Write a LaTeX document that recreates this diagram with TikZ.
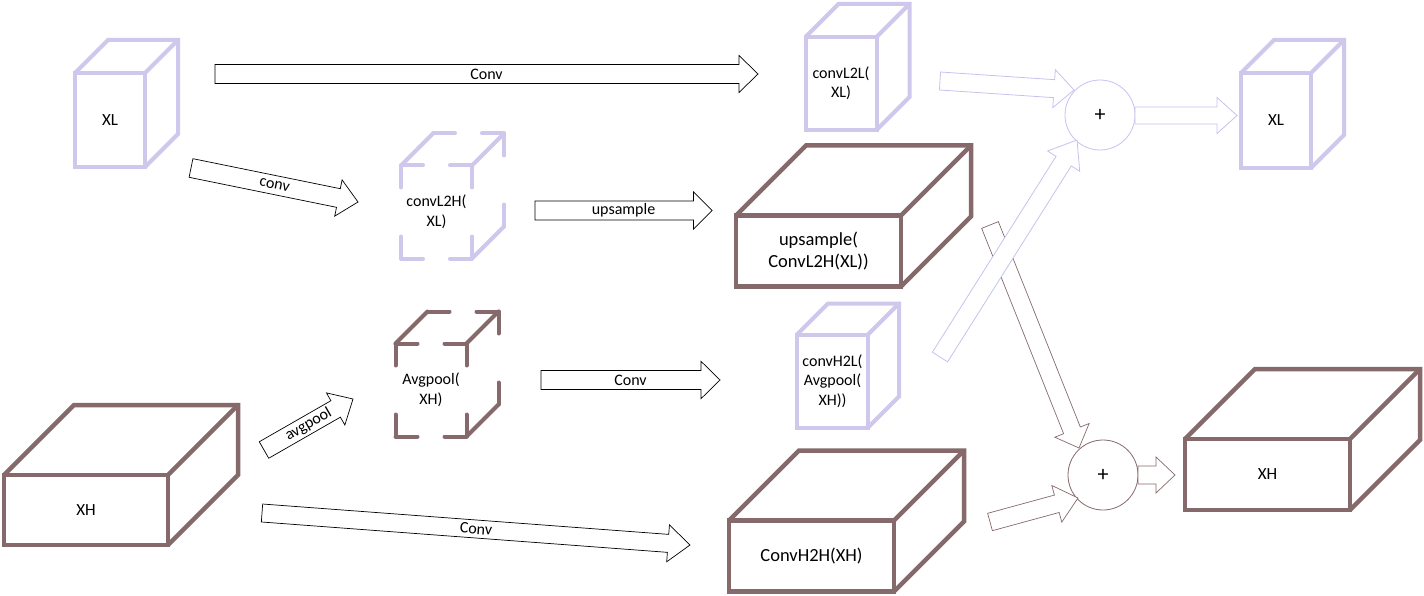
\documentclass[tikz,border=0pt]{standalone}
\usepackage{fontspec}
\setmainfont{Carlito}
\usetikzlibrary{calc}
\definecolor{lav}{HTML}{CFC7EC}
\definecolor{brn}{HTML}{86696B}
\definecolor{lavline}{HTML}{C6C2F0}
\newcommand\blockarrow[6]{%
  \coordinate (baH) at ($(#3)!#6!(#2)$);
  \draw[#1] ($(#2)!#4!90:(#3)$) -- ($(baH)!#4!-90:(#2)$) -- ($(baH)!#5!-90:(#2)$) -- (#3)
    -- ($(baH)!#5!90:(#2)$) -- ($(baH)!#4!90:(#2)$) -- ($(#2)!#4!-90:(#3)$) -- cycle;
}
\newcommand\cubeback[3]{%
  \draw[#3] (#1.north west) -- ++(#2,-#2) -- ($(#1.north east)+(#2,-#2)$)
    -- ($(#1.south east)+(#2,-#2)$) -- (#1.south east);
  \draw[#3] (#1.north east) -- ++(#2,-#2);
}
\newcommand\halfedge[3]{%
  \coordinate (heM) at ($(#1)!.5!(#2)$);
  \draw[#3] (#1) -- (heM);
  \draw[#3] (#2) -- (heM);
}
\newcommand\dashcube[3]{%
  \coordinate (dcA) at (#1.north west);
  \coordinate (dcB) at (#1.north east);
  \coordinate (dcC) at (#1.south east);
  \coordinate (dcD) at (#1.south west);
  \coordinate (dcE) at ($(#1.north west)+(#2,-#2)$);
  \coordinate (dcF) at ($(#1.north east)+(#2,-#2)$);
  \coordinate (dcG) at ($(#1.south east)+(#2,-#2)$);
  \halfedge{dcA}{dcB}{#3}\halfedge{dcB}{dcC}{#3}\halfedge{dcC}{dcD}{#3}\halfedge{dcD}{dcA}{#3}
  \halfedge{dcA}{dcE}{#3}\halfedge{dcB}{dcF}{#3}\halfedge{dcC}{dcG}{#3}
  \halfedge{dcE}{dcF}{#3}\halfedge{dcF}{dcG}{#3}
}
\tikzset{
  face/.style={rectangle, outer sep=0pt, inner sep=0pt, align=center, text=black},
  smallcube/.style={face, minimum width=71pt, minimum height=93pt, font=\fontsize{16}{19.5}\selectfont},
  bigbox/.style={face, minimum width=165pt, minimum height=71pt, font=\fontsize{18.5}{22}\selectfont},
  lavcube/.style={draw=lav, line width=4pt},
  brncube/.style={draw=brn, line width=4.5pt},
  lavdash/.style={draw=lav, line width=4pt, line cap=round, dash pattern=on 22pt off 60pt},
  brndash/.style={draw=brn, line width=4pt, line cap=round, dash pattern=on 22pt off 60pt},
  blk/.style={draw=black, line width=0.7pt, fill=white},
  lavarr/.style={draw=lavline, line width=0.8pt, fill=white},
  brnarr/.style={draw=brn, line width=0.7pt, fill=white},
  lbl/.style={font=\fontsize{16}{18}\selectfont, inner sep=0pt},
  plus/.style={circle, minimum size=70pt, inner sep=0pt, fill=white, line width=0.8pt, font=\fontsize{22}{24}\selectfont},
}
\begin{document}
\begin{tikzpicture}[x=1pt,y=-1pt]
\useasboundingbox (0,0) rectangle (1424,596);
% ---- cubes ----
\node[smallcube, lavcube, minimum width=70pt, minimum height=94pt, font=\fontsize{17}{20}\selectfont] (xl) at (110,120) {XL};
\cubeback{xl}{33}{lavcube}
\node[smallcube] (l2h) at (436.5,212) {convL2H(\\XL)};
\dashcube{l2h}{32}{lavdash}
\node[smallcube] (avg) at (431,390) {Avgpool(\\XH)};
\dashcube{avg}{32}{brndash}
\node[smallcube, lavcube] (l2l) at (841,83.5) {convL2L(\\XL)};
\cubeback{l2l}{33}{lavcube}
\node[bigbox, brncube] (up) at (818.5,251) {upsample(\\ConvL2H(XL))};
\cubeback{up}{70}{brncube}
\node[smallcube, lavcube] (h2l) at (832.5,381) {convH2L(\\Avgpool(\\XH))};
\cubeback{h2l}{31}{lavcube}
\node[bigbox, brncube] (h2h) at (811.5,556) {ConvH2H(XH)};
\cubeback{h2h}{70}{brncube}
\node[bigbox, brncube, minimum width=164pt, minimum height=70pt, font=\fontsize{17}{20}\selectfont] (xh) at (86,510) {XH};
\cubeback{xh}{70}{brncube}
\node[bigbox, brncube, font=\fontsize{17}{20}\selectfont] (xho) at (1267.5,474.5) {XH};
\cubeback{xho}{70}{brncube}
\node[smallcube, lavcube, minimum width=70pt, minimum height=95pt, font=\fontsize{17}{20}\selectfont] (xlo) at (1276,120.5) {XL};
\cubeback{xlo}{33}{lavcube}
% ---- sum nodes ----
\node[plus, draw=lavline] (s1) at (1100,115) {+};
\node[plus, draw=brn] (s2) at (1103,475) {+};
% ---- black arrows ----
\coordinate (a1s) at (215,74);  \coordinate (a1e) at (758,74);
\blockarrow{blk}{a1s}{a1e}{9.5pt}{18.5pt}{19pt}
\path (a1s) -- (a1e) node[midway, sloped, lbl] {Conv};
\coordinate (a2s) at (191,168);   \coordinate (a2e) at (358,202);
\blockarrow{blk}{a2s}{a2e}{9.5pt}{18.5pt}{20pt}
\path (a2s) -- (a2e) node[midway, sloped, lbl] {conv};
\coordinate (a3s) at (535,210.5);   \coordinate (a3e) at (712,210.5);
\blockarrow{blk}{a3s}{a3e}{9.5pt}{18.7pt}{18.5pt}
\path (a3s) -- (a3e) node[midway, sloped, lbl] {upsample};
\coordinate (a4s) at (264,450);   \coordinate (a4e) at (353,399);
\blockarrow{blk}{a4s}{a4e}{9.5pt}{18.5pt}{20pt}
\path (a4s) -- (a4e) node[midway, sloped, lbl] {avgpool};
\coordinate (a5s) at (541,380);   \coordinate (a5e) at (720,380);
\blockarrow{blk}{a5s}{a5e}{9.5pt}{18.7pt}{19pt}
\path (a5s) -- (a5e) node[midway, sloped, lbl] {Conv};
\coordinate (a6s) at (262,513);   \coordinate (a6e) at (690,545);
\blockarrow{blk}{a6s}{a6e}{9pt}{18.5pt}{22pt}
\path (a6s) -- (a6e) node[midway, sloped, lbl] {Conv};
% ---- brown arrows ----
\coordinate (b1s) at (990,225);   \coordinate (b1e) at (1079,448);
\blockarrow{brnarr}{b1s}{b1e}{9pt}{18.5pt}{19pt}
\coordinate (b2s) at (990,522);   \coordinate (b2e) at (1078,498);
\blockarrow{brnarr}{b2s}{b2e}{9pt}{19pt}{22pt}
\coordinate (b3s) at (1138,475);  \coordinate (b3e) at (1175,475);
\blockarrow{brnarr}{b3s}{b3e}{9pt}{18pt}{19pt}
% ---- lavender arrows ----
\coordinate (c1s) at (940,81);    \coordinate (c1e) at (1074,90);
\blockarrow{lavarr}{c1s}{c1e}{9pt}{19pt}{20pt}
\coordinate (c2s) at (940,357);   \coordinate (c2e) at (1077,140);
\blockarrow{lavarr}{c2s}{c2e}{9pt}{19pt}{25pt}
\coordinate (c3s) at (1135,115.5); \coordinate (c3e) at (1237,115.5);
\blockarrow{lavarr}{c3s}{c3e}{8.5pt}{18pt}{20pt}
\end{tikzpicture}
\end{document}
